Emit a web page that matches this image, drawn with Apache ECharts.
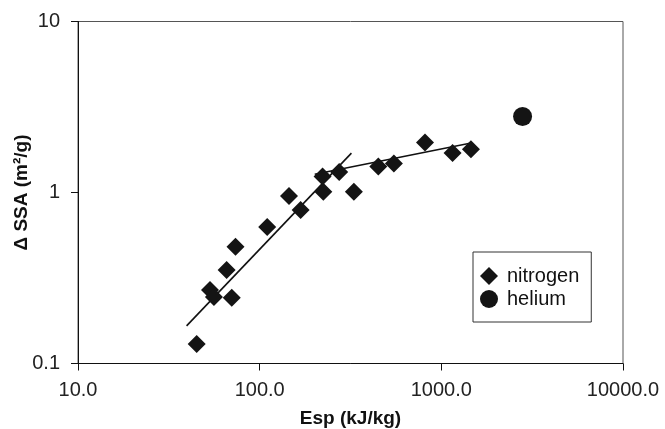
<!DOCTYPE html>
<html>
<head>
<meta charset="utf-8">
<script src="https://cdn.jsdelivr.net/npm/echarts@6/dist/echarts.min.js"></script>
<style>
	html, body { margin: 0; padding: 0; background: #fff; }
	#chart { width: 665px; height: 429px; }
</style>
</head>
<body>
<div id="chart"></div>
<script>
	// 数据
	var nitrogenEsp = [45.0, 53.3, 56.0, 70.2, 65.8, 73.6, 110, 168, 145, 224, 222, 274, 330, 450, 548, 813, 1153, 1455];
	var nitrogenSSA = [0.130, 0.269, 0.245, 0.242, 0.352, 0.482, 0.628, 0.791, 0.954, 1.01, 1.24, 1.32, 1.01, 1.42, 1.48, 1.96, 1.70, 1.79];
	var heliumEsp = [2800];
	var heliumSSA = [2.78];
	// 两段趋势线
	var fit1Esp = [39.6, 320];
	var fit1SSA = [0.166, 1.70];
	var fit2Esp = [201, 1436];
	var fit2SSA = [1.28, 1.94];
	var xTicks = [10, 100, 1000, 10000];
	var yTicks = [0.1, 1, 10];

	function pairs(xs, ys) {
		var out = [];
		for (var i = 0; i < xs.length; i++) {
			out.push([xs[i], ys[i]]);
		}
		return out;
	}

	var font = 'Liberation Sans';
	var myChart = echarts.init(document.getElementById('chart'));

	var option = {
		animation : false,
		backgroundColor : '#fff',
		textStyle : {
			fontFamily : font
		},
		grid : {
			left : 78,
			right : 42,
			top : 21.5,
			bottom : 65.5,
			containLabel : false,
			outerBoundsMode : 'none',
			show : true,
			borderColor : '#555',
			borderWidth : 1
		},
		legend : {
			orient : 'vertical',
			left : 473,
			top : 252,
			padding : [ 14, 12, 13, 7 ],
			itemWidth : 18,
			itemHeight : 18,
			itemGap : 3,
			borderColor : '#333',
			borderWidth : 1,
			backgroundColor : '#fff',
			data : [ {
				name : 'nitrogen',
				icon : 'diamond'
			}, {
				name : 'helium',
				icon : 'circle'
			} ],
			itemStyle : {
				opacity : 1
			},
			textStyle : {
				fontFamily : font,
				fontSize : 20,
				color : '#111',
				padding : [ 0, 0, 0, 4 ]
			}
		},
		xAxis : {
			type : 'log',
			logBase : 10,
			min : xTicks[0],
			max : xTicks[xTicks.length - 1],
			name : 'Esp (kJ/kg)',
			nameLocation : 'middle',
			nameGap : 46,
			nameTextStyle : {
				fontFamily : font,
				fontSize : 19,
				fontWeight : 'bold',
				color : '#111'
			},
			axisLine : {
				lineStyle : {
					color : '#111',
					width : 1
				}
			},
			axisTick : {
				show : true,
				length : 7,
				lineStyle : {
					color : '#111'
				}
			},
			axisLabel : {
				margin : 17,
				fontSize : 20,
				color : '#222',
				formatter : function(v) {
					return Number(v).toFixed(1);
				}
			},
			splitLine : {
				show : false
			},
			minorTick : {
				show : false
			}
		},
		yAxis : {
			type : 'log',
			logBase : 10,
			min : yTicks[0],
			max : yTicks[yTicks.length - 1],
			name : 'Δ SSA (m²/g)',
			nameLocation : 'middle',
			nameGap : 47,
			nameMoveOverlap : false,
			nameTextStyle : {
				fontFamily : font,
				fontSize : 19,
				fontWeight : 'bold',
				color : '#111'
			},
			axisLine : {
				lineStyle : {
					color : '#111',
					width : 1
				}
			},
			axisTick : {
				show : true,
				length : 7,
				lineStyle : {
					color : '#111'
				}
			},
			axisLabel : {
				margin : 18,
				fontSize : 20,
				color : '#222',
				formatter : function(v) {
					return String(Math.round(v * 10) / 10);
				}
			},
			splitLine : {
				show : false
			}
		},
		series : [ {
			name : 'nitrogen',
			type : 'scatter',
			symbol : 'diamond',
			symbolSize : 18,
			itemStyle : {
				color : '#141414',
				opacity : 1
			},
			data : pairs(nitrogenEsp, nitrogenSSA),
			z : 3
		}, {
			name : 'helium',
			type : 'scatter',
			symbol : 'circle',
			symbolSize : 19,
			itemStyle : {
				color : '#141414',
				opacity : 1
			},
			data : pairs(heliumEsp, heliumSSA),
			z : 3
		}, {
			name : 'fit1',
			type : 'line',
			showSymbol : false,
			symbol : 'none',
			lineStyle : {
				color : '#111',
				width : 1.6
			},
			data : pairs(fit1Esp, fit1SSA),
			z : 2
		}, {
			name : 'fit2',
			type : 'line',
			showSymbol : false,
			symbol : 'none',
			lineStyle : {
				color : '#111',
				width : 1.6
			},
			data : pairs(fit2Esp, fit2SSA),
			z : 2
		} ]
	};
	myChart.setOption(option);
</script>
</body>
</html>
